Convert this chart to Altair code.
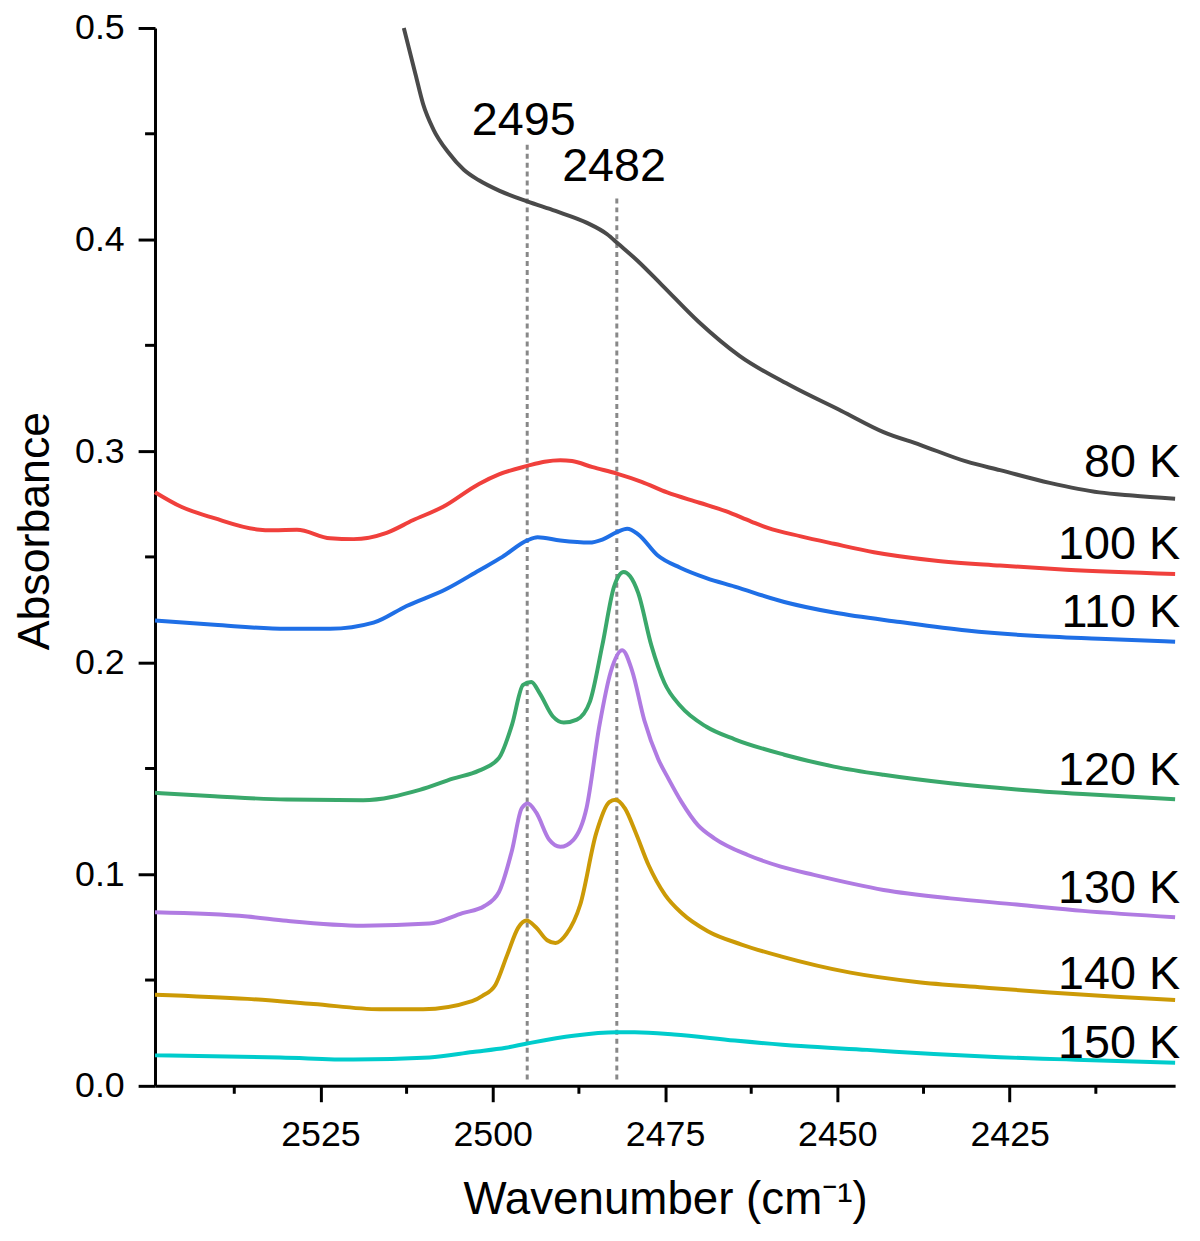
import altair as alt
import pandas as pd

FONT = "Liberation Sans"
W, H = 1027, 1065

series_names = ["80 K", "100 K", "110 K", "120 K", "130 K", "140 K", "150 K"]
series_colors = ["#4a4a4a", "#f0403c", "#1f6fe6", "#3aa86b", "#b07be2", "#cc9a06", "#00cccc"]

wn_80 = [2512.9, 2511.2, 2510.1, 2508.6, 2506.4, 2504.2, 2502.0, 2499.0, 2495.0, 2490.9, 2486.4,
         2483.4, 2481.8, 2479.0, 2475.3, 2470.1, 2464.2, 2456.8, 2449.4, 2443.3, 2438.0, 2431.2,
         2426.4, 2419.2, 2412.0, 2407.2, 2401.0]
abs_80 = [0.500, 0.478, 0.464, 0.452, 0.441, 0.433, 0.428, 0.423, 0.418, 0.4135, 0.408,
          0.4025, 0.398, 0.390, 0.378, 0.361, 0.345, 0.331, 0.319, 0.309, 0.303, 0.295,
          0.291, 0.285, 0.2805, 0.279, 0.2775]

wn_100 = [2549, 2545.2, 2540.4, 2534.2, 2531.8, 2528.4, 2523.6, 2520.2, 2515.4, 2511.6, 2507.2,
          2502, 2499.1, 2495, 2492.5, 2490.2, 2488.5, 2485.5, 2482, 2478.4, 2474.7, 2470,
          2466.2, 2462.5, 2460.1, 2455.3, 2450.5, 2444.7, 2436, 2426.4, 2416.8, 2401]
abs_100 = [0.2806, 0.2737, 0.2683, 0.2630, 0.2626, 0.2628, 0.2588, 0.2584, 0.2614, 0.2673, 0.2737,
           0.2845, 0.289, 0.293, 0.295, 0.2957, 0.2953, 0.2924, 0.2894, 0.2855, 0.2805, 0.2756,
           0.2716, 0.2667, 0.2637, 0.2597, 0.2562, 0.2522, 0.2483, 0.2459, 0.2439, 0.2419]

wn_110 = [2549, 2540.4, 2529.9, 2523.6, 2517.3, 2512.5, 2506.8, 2502, 2498.6, 2495, 2493.5,
          2490.2, 2486, 2484.1, 2482, 2480.5, 2478.9, 2476.1, 2472.8, 2469, 2464.9, 2457.7,
          2450.5, 2440.9, 2431.2, 2421.6, 2412, 2401]
abs_110 = [0.2199, 0.2179, 0.216, 0.216, 0.2189, 0.2268, 0.2347, 0.2436, 0.2500, 0.2578, 0.2593,
           0.2578, 0.2568, 0.2582, 0.2617, 0.2633, 0.2607, 0.2508, 0.2449, 0.24, 0.236, 0.2287,
           0.2237, 0.2192, 0.2152, 0.2127, 0.2113, 0.2099]

wn_120 = [2549, 2540.4, 2529.9, 2518.8, 2510.6, 2505.8, 2502, 2499.1, 2497.2, 2495.6, 2494.4,
          2493.2, 2491.3, 2489.7, 2487.8, 2485.9, 2484.1, 2482.4, 2481, 2480.1, 2478.9, 2477,
          2475.1, 2472.8, 2469, 2464.9, 2457.7, 2450.5, 2443.3, 2433.6, 2424, 2414.4, 2401]
abs_120 = [0.1385, 0.1369, 0.1353, 0.135, 0.1399, 0.1452, 0.149, 0.1549, 0.1707, 0.1895, 0.1909,
           0.1856, 0.1747, 0.1717, 0.1731, 0.1816, 0.2083, 0.236, 0.2429, 0.241, 0.233, 0.2083,
           0.1905, 0.1796, 0.1697, 0.1638, 0.1565, 0.1509, 0.147, 0.143, 0.1401, 0.1379, 0.1355]

wn_130 = [2549, 2535.6, 2529.9, 2518.8, 2509.2, 2504.4, 2501.2, 2499.1, 2497.2, 2495.8, 2494.9,
          2493.7, 2491.8, 2490.2, 2488.3, 2486.4, 2484.5, 2482.9, 2481.2, 2479.8, 2478, 2476.0,
          2474.5, 2472.6, 2470.2, 2467.8, 2463.0, 2458.2, 2453.4, 2443.3, 2433.6, 2424, 2414.4,
          2401]
abs_130 = [0.082, 0.08, 0.078, 0.0757, 0.0767, 0.0816, 0.0850, 0.0916, 0.1114, 0.1312, 0.1335,
           0.1292, 0.1163, 0.113, 0.1163, 0.1312, 0.1707, 0.1955, 0.2059, 0.1964, 0.1727, 0.1545,
           0.1451, 0.1341, 0.1231, 0.1169, 0.1091, 0.1036, 0.0997, 0.0926, 0.0886, 0.0857, 0.0827,
           0.0797]

wn_140 = [2549, 2535.6, 2526, 2516.4, 2510.1, 2503, 2501.5, 2499.6, 2497.9, 2496.3, 2495.1,
          2493.7, 2492.1, 2490.9, 2489.3, 2487.3, 2485, 2483.1, 2482.2, 2480.8, 2479.3, 2477.4,
          2475.0, 2472.6, 2468.8, 2463.9, 2458.2, 2448.1, 2438.5, 2428.8, 2419.2, 2409.6, 2401]
abs_140 = [0.0431, 0.0411, 0.0387, 0.0362, 0.0362, 0.0400, 0.0425, 0.0478, 0.0619, 0.0748, 0.0781,
           0.0748, 0.0688, 0.0675, 0.0718, 0.0857, 0.1193, 0.1341, 0.1352, 0.131, 0.12, 0.1044,
           0.0903, 0.0817, 0.0731, 0.0668, 0.0612, 0.0535, 0.0491, 0.0465, 0.0441, 0.0421, 0.0406]

wn_150 = [2549, 2530.8, 2520.2, 2509.2, 2502.9, 2498.1, 2495, 2488.3, 2482, 2479.4, 2473.7,
          2464.9, 2455.3, 2445.7, 2436, 2426.4, 2416.8, 2401]
abs_150 = [0.0144, 0.0134, 0.0124, 0.0134, 0.016, 0.018, 0.02, 0.0237, 0.0253, 0.0253, 0.0243,
           0.0214, 0.0188, 0.017, 0.015, 0.0135, 0.0125, 0.0109]

# label positions (right end) and peak markers
label_wn = [2401] * 7
label_abs = [0.2876, 0.249, 0.2169, 0.1424, 0.0865, 0.0459, 0.0132]
peak_wn = [2495, 2482]
peak_top = [0.4455, 0.4197]
peak_label_wn = [2495.5, 2482.4]
peak_label_abs = [0.4493, 0.4277]

x_ticks = [2525, 2500, 2475, 2450, 2425]
x_minor = [2537.5, 2512.5, 2487.5, 2462.5, 2437.5, 2412.5]
y_ticks = [0.0, 0.1, 0.2, 0.3, 0.4, 0.5]
y_minor = [0.05, 0.15, 0.25, 0.35, 0.45]

all_wn = [wn_80, wn_100, wn_110, wn_120, wn_130, wn_140, wn_150]
all_abs = [abs_80, abs_100, abs_110, abs_120, abs_130, abs_140, abs_150]
rows = []
for name, xs, ys in zip(series_names, all_wn, all_abs):
    for x, y in zip(xs, ys):
        rows.append({"series": name, "wn": x, "absorbance": y})
spectra = pd.DataFrame(rows)

labels = pd.DataFrame({"series": series_names, "wn": label_wn, "absorbance": label_abs})
peaks = pd.DataFrame({"wn": peak_wn, "absorbance": [0.003, 0.003], "top": peak_top})
peak_text = pd.DataFrame({"wn": peak_label_wn, "absorbance": peak_label_abs,
                          "txt": [str(p) for p in peak_wn]})
xminor = pd.DataFrame({"wn": x_minor})
yminor = pd.DataFrame({"absorbance": y_minor})

xscale = alt.Scale(domain=[2401, 2549], reverse=True, nice=False, zero=False)
yscale = alt.Scale(domain=[0, 0.5], nice=False)
xaxis = alt.Axis(values=x_ticks, format="d", title="Wavenumber (cm⁻¹)", tickSize=16,
                 labelPadding=16, labelFontSize=36, titleFontSize=46, titleY=129,
                 titleBaseline="alphabetic")
yaxis = alt.Axis(values=y_ticks, format=".1f", title="Absorbance", tickSize=17,
                 labelPadding=14, labelFontSize=36, titleFontSize=45, titleX=-107,
                 titleY=506, titleBaseline="alphabetic", titleAlign="center")

X = alt.X("wn:Q", scale=xscale, axis=xaxis)
Y = alt.Y("absorbance:Q", scale=yscale, axis=yaxis)

lines = alt.Chart(spectra).mark_line(strokeWidth=4, interpolate="monotone").encode(
    x=X, y=Y,
    color=alt.Color("series:N", scale=alt.Scale(domain=series_names, range=series_colors),
                    legend=None),
    detail="series:N",
)

dashes = alt.Chart(peaks).mark_rule(color="#888888", strokeWidth=3, strokeDash=[5, 4]).encode(
    x=X, y=Y, y2="top:Q"
)

peak_labels = alt.Chart(peak_text).mark_text(
    font=FONT, fontSize=47, color="black", align="center", baseline="alphabetic"
).encode(x=X, y=Y, text="txt:N")

series_labels = alt.Chart(labels).mark_text(
    font=FONT, fontSize=47, color="black", align="right", baseline="alphabetic", dx=5
).encode(x=X, y=Y, text="series:N")

x_minor_ticks = alt.Chart(xminor).mark_rule(color="black", strokeWidth=3).encode(
    x=X, y=alt.value(H), y2=alt.value(H + 8)
)
y_minor_ticks = alt.Chart(yminor).mark_rule(color="black", strokeWidth=3).encode(
    y=Y, x=alt.value(-10), x2=alt.value(0)
)

chart = alt.layer(
    dashes, lines, peak_labels, series_labels, x_minor_ticks, y_minor_ticks
).properties(
    width=W, height=H,
    autosize=alt.AutoSizeParams(type="none"),
    padding={"left": 148, "top": 16, "right": 17, "bottom": 138},
).configure_view(
    stroke=None
).configure_axis(
    grid=False, domainColor="black", domainWidth=3, tickColor="black", tickWidth=3,
    labelColor="black", titleColor="black", labelFont=FONT, titleFont=FONT,
    titleFontWeight="normal",
)

chart.save("out.html", embed_options={"renderer": "svg", "actions": False})
